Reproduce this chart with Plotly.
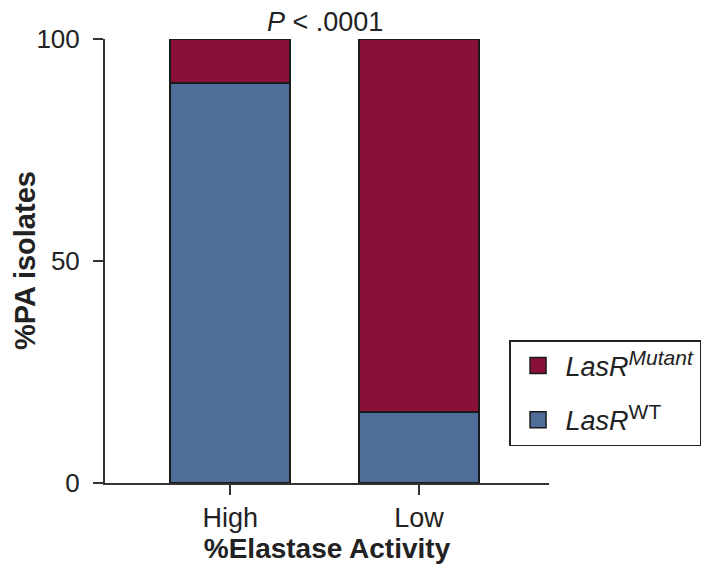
import plotly.graph_objects as go

categories = ["High", "Low"]
wt_values = [90, 16]
mutant_values = [10, 84]
y_ticks = [0, 50, 100]

blue = "#4F6D99"
red = "#8A1038"
font_family = "Liberation Sans, Arial, sans-serif"
wt_name = "<i>LasR</i><sup><span style='font-size:21px'>WT</span></sup>"
mut_name = "<i>LasR</i><sup><span style='font-size:21px'><i>Mutant</i></span></sup>"

fig = go.Figure()
fig.add_trace(go.Bar(
    x=[0, 1], y=wt_values, name="LasR WT", showlegend=False,
    marker=dict(color=blue, line=dict(color="#1a1a1a", width=2)),
    width=0.637,
))
fig.add_trace(go.Bar(
    x=[0, 1], y=mutant_values, name="LasR Mutant", showlegend=False,
    marker=dict(color=red, line=dict(color="#1a1a1a", width=2)),
    width=0.637,
))
# legend entries (square swatches)
fig.add_trace(go.Scatter(
    x=[None], y=[None], mode="markers", name=mut_name, legendgroup="mut",
    marker=dict(symbol="square", size=20, color=red,
                line=dict(color="#1a1a1a", width=1.5)),
))
fig.add_trace(go.Scatter(
    x=[None], y=[None], mode="markers", name=wt_name, legendgroup="wt",
    marker=dict(symbol="square", size=20, color=blue,
                line=dict(color="#1a1a1a", width=1.5)),
))

fig.update_layout(
    width=705, height=563,
    barmode="stack",
    paper_bgcolor="white", plot_bgcolor="white",
    margin=dict(l=97, r=161, t=31, b=88),
    font=dict(family=font_family, size=27, color="#222"),
    showlegend=True,
    legend=dict(
        x=0.91, y=0.322, xanchor="left", yanchor="top",
        bordercolor="#222", borderwidth=1.5,
        traceorder="grouped",
        font=dict(size=27, color="#222"),
        itemsizing="trace",
        itemwidth=45,
        tracegroupgap=16,
    ),
    xaxis=dict(
        range=[-0.663, 1.689],
        tickvals=[0, 1], ticktext=categories,
        showline=True, linecolor="#333", linewidth=2,
        ticks="outside", ticklen=10, tickwidth=2, tickcolor="#333",
        showgrid=False, zeroline=False, automargin=False,
        title=dict(text="<b>%Elastase Activity</b>", standoff=6,
                   font=dict(size=28)),
        tickfont=dict(size=27),
    ),
    yaxis=dict(
        range=[0, 100],
        tickvals=y_ticks,
        showline=True, linecolor="#333", linewidth=2,
        ticks="outside", ticklen=10, tickwidth=2, tickcolor="#333",
        ticklabelstandoff=8,
        showgrid=False, zeroline=False, automargin=False,
        tickfont=dict(size=26),
    ),
)

fig.add_annotation(
    text="<b>%PA isolates</b>", x=0, y=0.5, xref="paper", yref="paper",
    xanchor="center", yanchor="middle", textangle=-90, xshift=-80,
    borderpad=0,
    showarrow=False, font=dict(size=29, color="#222"),
)

fig.add_annotation(
    text="<i>P</i> < .0001", x=0.5, y=1.0,
    xref="x", yref="paper", yanchor="bottom", xanchor="center",
    showarrow=False, yshift=0, font=dict(size=27, color="#222"),
)

fig.write_html("out.html")
